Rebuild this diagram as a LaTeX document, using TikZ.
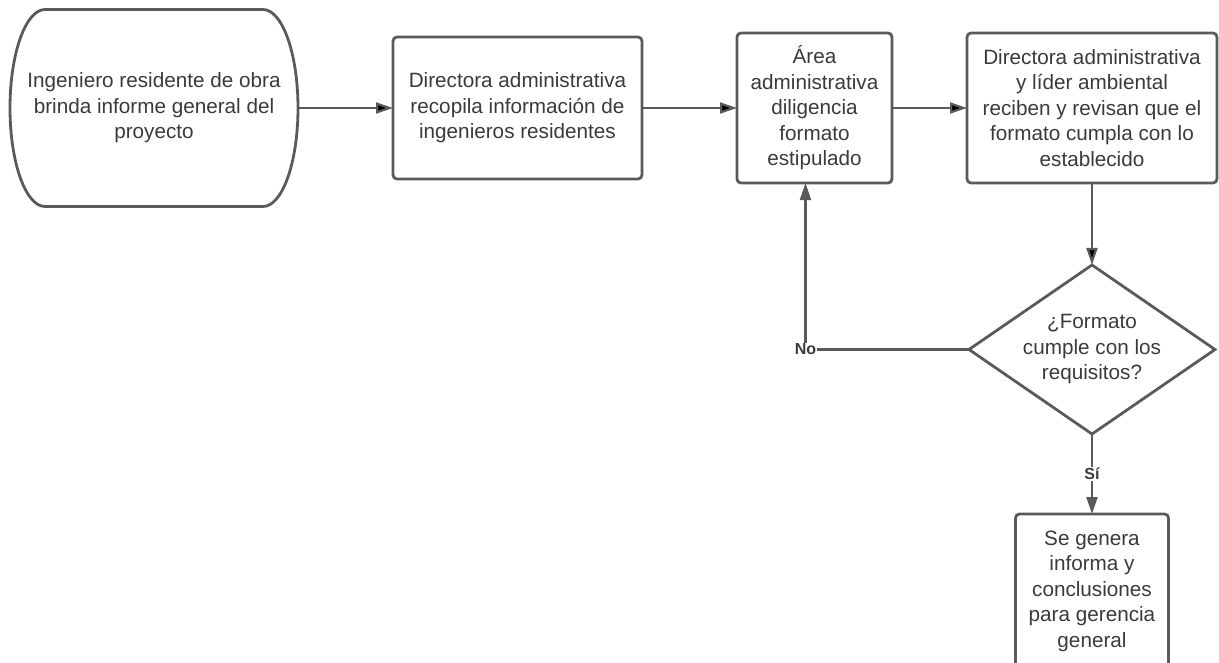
\documentclass[tikz,border=0pt]{standalone}
\usepackage{fontspec}
\setmainfont{Liberation Sans}
\usetikzlibrary{arrows.meta,positioning,shapes.geometric}
\definecolor{linegray}{HTML}{5A5A5A}
\definecolor{textgray}{HTML}{3A3A3A}
\tikzset{%
        flow/.style = {draw = linegray, line width = 2.2pt,
                -{Triangle[length=17pt,width=11pt]}},
        node distance = 95pt
}
\tikzstyle{every node}=[
    text = textgray,
    font = \fontsize{20.7}{25.5}\selectfont,
    align = center
]
\tikzstyle{proc}=[
    rectangle,
    draw = linegray,
    line width = 2.8pt,
    rounded corners = 4pt,
    inner sep = 0pt,
    outer sep = 0pt
]
\tikzstyle{terminal}=[
    rectangle,
    minimum width = 288pt,
    minimum height = 197pt,
    inner sep = 0pt,
    outer sep = 0pt
]
\tikzstyle{decision}=[
    diamond,
    draw = linegray,
    line width = 2.8pt,
    aspect = 1.46,
    minimum width = 246pt,
    minimum height = 169pt,
    inner sep = 0pt,
    outer sep = 0pt
]
\tikzstyle{answer}=[
    fill = white,
    inner sep = 1pt,
    font = \bfseries\fontsize{16}{18}\selectfont
]
\begin{document}
\begin{tikzpicture}[x = 1pt, y = 1pt]
        \clip (0,0) rectangle (1219,-662);
        \node[terminal] (start) at (154,-108)
            {Ingeniero residente de obra\\brinda informe general del\\proyecto};
        \draw[linegray, line width = 2.8pt]
            ([xshift=35pt]start.north west) -- ([xshift=-35pt]start.north east)
            arc[start angle=90, end angle=-90, x radius=35pt, y radius=98.5pt]
            -- ([xshift=35pt]start.south west)
            arc[start angle=270, end angle=90, x radius=35pt, y radius=98.5pt];
        \node[proc, minimum width = 249pt, minimum height = 142pt]
            (recopila) [right = of start]
            {Directora administrativa\\recopila información de\\ingenieros residentes};
        \node[proc, minimum width = 155pt, minimum height = 150pt]
            (formato) [right = of recopila]
            {Área\\administrativa\\diligencia\\formato\\estipulado};
        \node[proc, minimum width = 250pt, minimum height = 150pt]
            (revisan) [right = 75pt of formato]
            {Directora administrativa\\y líder ambiental\\reciben y revisan que el\\formato cumpla con lo\\establecido};
        \node[decision] (cumple) [below = 82pt of revisan]
            {¿Formato\\cumple con los\\requisitos?};
        \node[proc, minimum width = 153pt, minimum height = 154pt]
            (informe) [below = 80pt of cumple]
            {Se genera\\informa y\\conclusiones\\para gerencia\\general};
        \coordinate (no) at ([xshift=-9pt]formato.south |- cumple.west);
        \path[flow]
        (start) edge (recopila)
        (recopila) edge (formato)
        (formato) edge (revisan)
        (revisan) edge (cumple)
        ;
        \draw[flow] (cumple.west) -- (no) -- ([xshift=-9pt]formato.south);
        \node[answer] at (no) {No};
        \draw[flow] (cumple) -- node[answer] {Sí} (informe);
    \end{tikzpicture}
\end{document}
